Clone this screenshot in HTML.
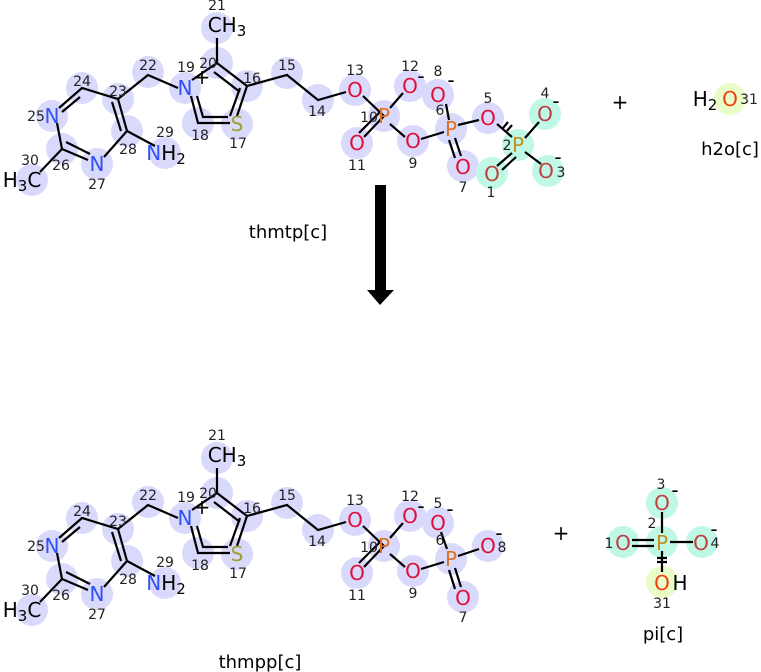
<!DOCTYPE html>
<html><head><meta charset="utf-8"><style>
html,body{margin:0;padding:0;background:#fff;}
svg{display:block;font-family:"DejaVu Sans","Liberation Sans",sans-serif;}
.c{fill:#d9d9fb}
.g{fill:#c0f8e6}
.y{fill:#eafcc8}
circle{r:16px}
.b{stroke:#000;stroke-width:2.2;fill:none}
.N{fill:#3050f8;font-size:20px;text-anchor:middle}
.O{fill:#e0103a;font-size:20px;text-anchor:middle}
.Og{fill:#c04040;font-size:20px;text-anchor:middle}
.P{fill:#e07020;font-size:20px;text-anchor:middle}
.Pg{fill:#c09020;font-size:20px;text-anchor:middle}
.S{fill:#a0a030;font-size:20px;text-anchor:middle}
.K{fill:#000;font-size:20px;text-anchor:middle}
.l{fill:#222;font-size:14px;text-anchor:middle}
.t{fill:#000;font-size:18px;text-anchor:middle}
</style></head><body>
<svg width="761" height="672" viewBox="0 0 761 672">
<defs>
<g id="core">
<circle class="c" cx="217" cy="28" r="16"/>
<circle class="c" cx="217" cy="63" r="16"/>
<circle class="c" cx="185" cy="88" r="16"/>
<circle class="c" cx="247" cy="86" r="16"/>
<circle class="c" cx="198" cy="123" r="16"/>
<circle class="c" cx="237" cy="124" r="16"/>
<circle class="c" cx="148" cy="72" r="16"/>
<circle class="c" cx="118" cy="99" r="16"/>
<circle class="c" cx="82" cy="88" r="16"/>
<circle class="c" cx="52" cy="116" r="16"/>
<circle class="c" cx="62" cy="149" r="16"/>
<circle class="c" cx="97" cy="164" r="16"/>
<circle class="c" cx="127" cy="131" r="16"/>
<circle class="c" cx="165" cy="153" r="16"/>
<circle class="c" cx="32" cy="180" r="16"/>
<circle class="c" cx="287" cy="73" r="16"/>
<circle class="c" cx="318" cy="100" r="16"/>
<circle class="c" cx="355" cy="90" r="16"/>
<circle class="c" cx="384" cy="116" r="16"/>
<circle class="c" cx="357" cy="143" r="16"/>
<circle class="c" cx="410" cy="86" r="16"/>
<circle class="c" cx="413" cy="141" r="16"/>
<path class="b" d="M217,38 L217,63 L192,80 M217,63 L247,86 M214,72 L240,92 M247,86 L237,116 M240,88 L230,116 M191,96 L198,123 L230,123 M197,96 L203,117 L228,117 M178,88 L148,75 L118,99 L82,88 L59,108 M80,97 L62,112 M57,123 L62,149 L88,160 M66,142 L90,154 M104,157 L127,131 L118,99 M121,131 L112,102 M127,131 L155,146 M62,149 L40,172 M247,86 L287,75 L318,100 L346,92 M363,96 L384,116 L364,137 M380,112 L359,133 M390,108 L403,93 M390,124 L405,137"/>
<text class="K" x="227" y="32">CH<tspan font-size="15" dy="4">3</tspan></text>
<text class="N" x="185" y="95">N</text>
<text class="K" x="202" y="84" font-size="18">+</text>
<text class="S" x="237" y="131">S</text>
<text class="N" x="52" y="123">N</text>
<text class="N" x="97" y="171">N</text>
<text class="N" x="166" y="160">N<tspan fill="#000">H</tspan><tspan fill="#000" font-size="15" dy="4">2</tspan></text>
<text class="K" x="22" y="187">H<tspan font-size="15" dy="4">3</tspan><tspan dy="-4">C</tspan></text>
<text class="O" x="355" y="97">O</text>
<text class="P" x="384" y="123">P</text>
<text class="O" x="357" y="150">O</text>
<text class="O" x="410" y="93">O</text>
<text class="K" x="421" y="83" font-size="15">-</text>
<text class="O" x="413" y="148">O</text>
<text class="l" x="217" y="10">21</text>
<text class="l" x="208" y="68">20</text>
<text class="l" x="186" y="72">19</text>
<text class="l" x="252" y="83">16</text>
<text class="l" x="200" y="140">18</text>
<text class="l" x="238" y="148">17</text>
<text class="l" x="148" y="70">22</text>
<text class="l" x="118" y="96">23</text>
<text class="l" x="82" y="86">24</text>
<text class="l" x="36" y="121">25</text>
<text class="l" x="61" y="170">26</text>
<text class="l" x="97" y="189">27</text>
<text class="l" x="128" y="154">28</text>
<text class="l" x="165" y="137">29</text>
<text class="l" x="30" y="165">30</text>
<text class="l" x="287" y="70">15</text>
<text class="l" x="317" y="116">14</text>
<text class="l" x="355" y="75">13</text>
<text class="l" x="369" y="122">10</text>
<text class="l" x="357" y="170">11</text>
<text class="l" x="410" y="71">12</text>
<text class="l" x="413" y="168">9</text>
</g>
</defs>

<use href="#core"/>
<circle class="c" cx="438" cy="95" r="16"/>
<circle class="c" cx="451" cy="129" r="16"/>
<circle class="c" cx="463" cy="166" r="16"/>
<circle class="c" cx="488" cy="118" r="16"/>
<circle class="g" cx="518" cy="145" r="16"/>
<circle class="g" cx="545" cy="114" r="16"/>
<circle class="g" cx="548" cy="171" r="16"/>
<circle class="g" cx="492" cy="173" r="16"/>
<path class="b" d="M421,139 L444,132 M446,104 L449,120 M455,138 L461,156 M449,140 L455,158 M458,125 L479,120 M497,124 L512,137 M503,128 L508,122 M507,131 L512,125 M512,153 L497,166 M516,157 L502,170 M525,138 L539,122 M525,152 L541,164"/>
<text class="O" x="438" y="102">O</text>
<text class="K" x="451" y="87" font-size="15">-</text>
<text class="P" x="451" y="136">P</text>
<text class="O" x="463" y="174">O</text>
<text class="O" x="488" y="125">O</text>
<text class="Pg" x="518" y="152">P</text>
<text class="Og" x="545" y="121">O</text>
<text class="K" x="556" y="108" font-size="15">-</text>
<text class="Og" x="546" y="178">O</text>
<text class="K" x="558" y="164" font-size="15">-</text>
<text class="Og" x="492" y="181">O</text>
<text class="l" x="438" y="76">8</text>
<text class="l" x="440" y="115">6</text>
<text class="l" x="463" y="192">7</text>
<text class="l" x="488" y="103">5</text>
<text class="l" x="507" y="150">2</text>
<text class="l" x="545" y="98">4</text>
<text class="l" x="561" y="177">3</text>
<text class="l" x="491" y="197">1</text>

<text class="K" x="620" y="109" font-size="26">+</text>
<circle class="y" cx="730" cy="99" r="16"/>
<text class="K" x="705" y="106">H<tspan font-size="15" dy="4">2</tspan></text>
<text class="O" x="730" y="106" style="fill:#f04010">O</text>
<text class="l" x="749" y="104">31</text>
<text class="t" x="730" y="155">h2o[c]</text>

<text class="t" x="288" y="238">thmtp[c]</text>
<rect x="375" y="185" width="11" height="108" fill="#000"/>
<polygon points="367,290 394,290 380,305" fill="#000"/>

<g transform="translate(0,430)"><use href="#core"/></g>
<circle class="c" cx="438" cy="523" r="16"/>
<circle class="c" cx="451" cy="559" r="16"/>
<circle class="c" cx="463" cy="597" r="16"/>
<circle class="c" cx="488" cy="546" r="16"/>
<path class="b" d="M421,569 L444,562 M441,532 L447,549 M455,568 L461,587 M449,570 L455,589 M458,556 L479,549"/>
<text class="O" x="438" y="530">O</text>
<text class="K" x="450" y="516" font-size="15">-</text>
<text class="P" x="451" y="566">P</text>
<text class="O" x="463" y="605">O</text>
<text class="O" x="488" y="553">O</text>
<text class="K" x="499" y="540" font-size="15">-</text>
<text class="l" x="438" y="508">5</text>
<text class="l" x="440" y="545">6</text>
<text class="l" x="463" y="622">7</text>
<text class="l" x="502" y="552">8</text>

<text class="K" x="561" y="540" font-size="26">+</text>
<circle class="g" cx="662" cy="503" r="16"/>
<circle class="g" cx="623" cy="542" r="16"/>
<circle class="g" cx="662" cy="542" r="16"/>
<circle class="g" cx="702" cy="542" r="16"/>
<circle class="y" cx="662" cy="582" r="16"/>
<path class="b" d="M662,512 L662,533 M632,540 L654,540 M632,546 L654,546 M670,542 L693,542 M662,551 L662,572 M657,558 L667,558 M657,562 L667,562"/>
<text class="Og" x="662" y="510">O</text>
<text class="K" x="675" y="497" font-size="15">-</text>
<text class="Og" x="623" y="550">O</text>
<text class="Pg" x="662" y="550">P</text>
<text class="Og" x="701" y="550">O</text>
<text class="K" x="714" y="536" font-size="15">-</text>
<text class="O" x="662" y="590" style="fill:#f04010">O</text>
<text class="K" x="680" y="590">H</text>
<text class="l" x="661" y="489">3</text>
<text class="l" x="652" y="528">2</text>
<text class="l" x="609" y="548">1</text>
<text class="l" x="715" y="548">4</text>
<text class="l" x="662" y="608">31</text>
<text class="t" x="663" y="640">pi[c]</text>
<text class="t" x="260" y="668">thmpp[c]</text>
</svg>
</body></html>
